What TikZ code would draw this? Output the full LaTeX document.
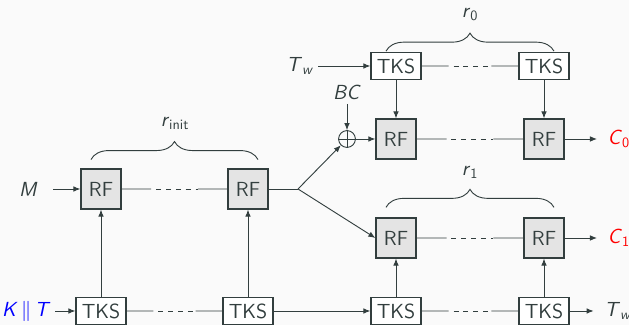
\documentclass[tikz,border=0pt]{standalone}
\usepackage{amsmath}
\usetikzlibrary{arrows.meta,positioning,calc,decorations.pathreplacing}

\definecolor{linegray}{RGB}{50,62,62}
\definecolor{boxfill}{RGB}{228,228,228}
\definecolor{bggray}{RGB}{250,250,250}

\newcommand{\sv}[1]{\textsf{\textit{#1}}}
% solid - dashed - solid link between two boxes
\newcommand{\gapline}[2]{%
  \draw (#1.east) -- ($(#1.east)!0.28!(#2.west)$)
        ($(#1.east)!0.72!(#2.west)$) -- (#2.west);
  \draw[dash pattern=on 3.5pt off 3.5pt, dash phase=3.5pt]
        ($(#1.east)!0.28!(#2.west)$) -- ($(#1.east)!0.72!(#2.west)$);}

\tikzset{
  rfbox/.style={draw, fill=boxfill, line width=0.9pt, minimum size=1cm, inner sep=0pt},
  tksbox/.style={draw, fill=white, line width=0.9pt, minimum width=1.25cm, minimum height=0.67cm, inner sep=0pt},
  lbl/.style={inner sep=3pt},
  arr/.style={-{Latex[length=5pt,width=4pt]}},
  brc/.style={decorate, decoration={brace, amplitude=0.45cm}},
}

\begin{document}
\begin{tikzpicture}[color=linegray, line width=0.65pt, font=\sffamily\fontsize{14.5}{17}\selectfont]
	\fill[bggray] (0,0) rectangle (15.725,8.125);
	\useasboundingbox (0,0) rectangle (15.725,8.125);

	% init rounds
	\node[rfbox] (rfi1) at (2.525,3.4) {RF};
	\node[rfbox] (rfi2) at (6.2,3.4) {RF};
	% key schedule
	\node[tksbox] (tks1) at (2.525,0.35) {TKS};
	\node[tksbox] (tks2) at (6.2,0.35) {TKS};
	\node[tksbox] (tks3) at (9.9,0.35) {TKS};
	\node[tksbox] (tks4) at (13.6,0.35) {TKS};
	% branch 1
	\node[rfbox] (rfa1) at (9.9,2.175) {RF};
	\node[rfbox] (rfa2) at (13.6,2.175) {RF};
	% branch 0
	\node[rfbox] (rfb1) at (9.9,4.65) {RF};
	\node[rfbox] (rfb2) at (13.6,4.65) {RF};
	\node[tksbox] (tkb1) at (9.9,6.475) {TKS};
	\node[tksbox] (tkb2) at (13.6,6.475) {TKS};
	\node[circle, draw, inner sep=0pt, minimum size=0.42cm] (xor) at (8.675,4.65) {};
	\draw (xor.north) -- (xor.south) (xor.west) -- (xor.east);
	\coordinate (br) at (7.45,3.4);

	% labels
	\node[lbl] (m) at (0.71,3.4) {$\sv{M}$};
	\node[lbl, blue] (kt) at (0.66,0.35) {$\sv{K}\,\|\,\sv{T}$};
	\node[lbl] (tw1) at (7.5,6.475) {$\sv{T}_{\sv{w}}$};
	\node[lbl] (bc) at (8.675,5.825) {\sv{BC}};
	\node[lbl, red] (c0) at (15.47,4.65) {$\sv{C}_{\textsf{0}}$};
	\node[lbl, red] (c1) at (15.47,2.175) {$\sv{C}_{\textsf{1}}$};
	\node[lbl] (tw2) at (15.45,0.35) {$\sv{T}_{\sv{w}}$};
	\node (rinit) at (4.375,5.03) {$\sv{r}_{\textsf{init}}$};
	\node (r0) at (11.75,7.75) {$\sv{r}_{\textsf{0}}$};
	\node (r1) at (11.75,3.82) {$\sv{r}_{\textsf{1}}$};

	% braces
	\draw[brc] ([xshift=-0.25cm,yshift=0.22cm]rfi1.north) -- ([xshift=0.25cm,yshift=0.22cm]rfi2.north);
	\draw[brc] ([xshift=-0.25cm,yshift=0.02cm]tkb1.north) -- ([xshift=0.25cm,yshift=0.02cm]tkb2.north);
	\draw[brc] ([xshift=-0.25cm,yshift=0.25cm]rfa1.north) -- ([xshift=0.25cm,yshift=0.25cm]rfa2.north);

	% init part
	\draw[arr, shorten <=0.27cm] (m) -- (rfi1);
	\gapline{rfi1}{rfi2}
	\draw (rfi2) -- (br);
	\draw[arr] (br) -- (xor);
	\draw[arr] (br) -- (rfa1.west);

	% branch 0
	\draw[arr] (tw1) -- (tkb1);
	\gapline{tkb1}{tkb2}
	\draw[arr] (tkb1) -- (rfb1);
	\draw[arr] (tkb2) -- (rfb2);
	\draw[arr] (bc) -- (xor);
	\draw[arr] (xor) -- (rfb1);
	\gapline{rfb1}{rfb2}
	\draw[arr, shorten >=0.15cm] (rfb2) -- (c0);

	% branch 1
	\gapline{rfa1}{rfa2}
	\draw[arr, shorten >=0.15cm] (rfa2) -- (c1);

	% key schedule row
	\draw[arr] (kt) -- (tks1);
	\gapline{tks1}{tks2}
	\draw[arr] (tks2) -- (tks3);
	\gapline{tks3}{tks4}
	\draw[arr, shorten >=0.15cm] (tks4) -- (tw2);
	\draw[arr] (tks1) -- (rfi1);
	\draw[arr] (tks2) -- (rfi2);
	\draw[arr] (tks3) -- (rfa1);
	\draw[arr] (tks4) -- (rfa2);
\end{tikzpicture}
\end{document}
